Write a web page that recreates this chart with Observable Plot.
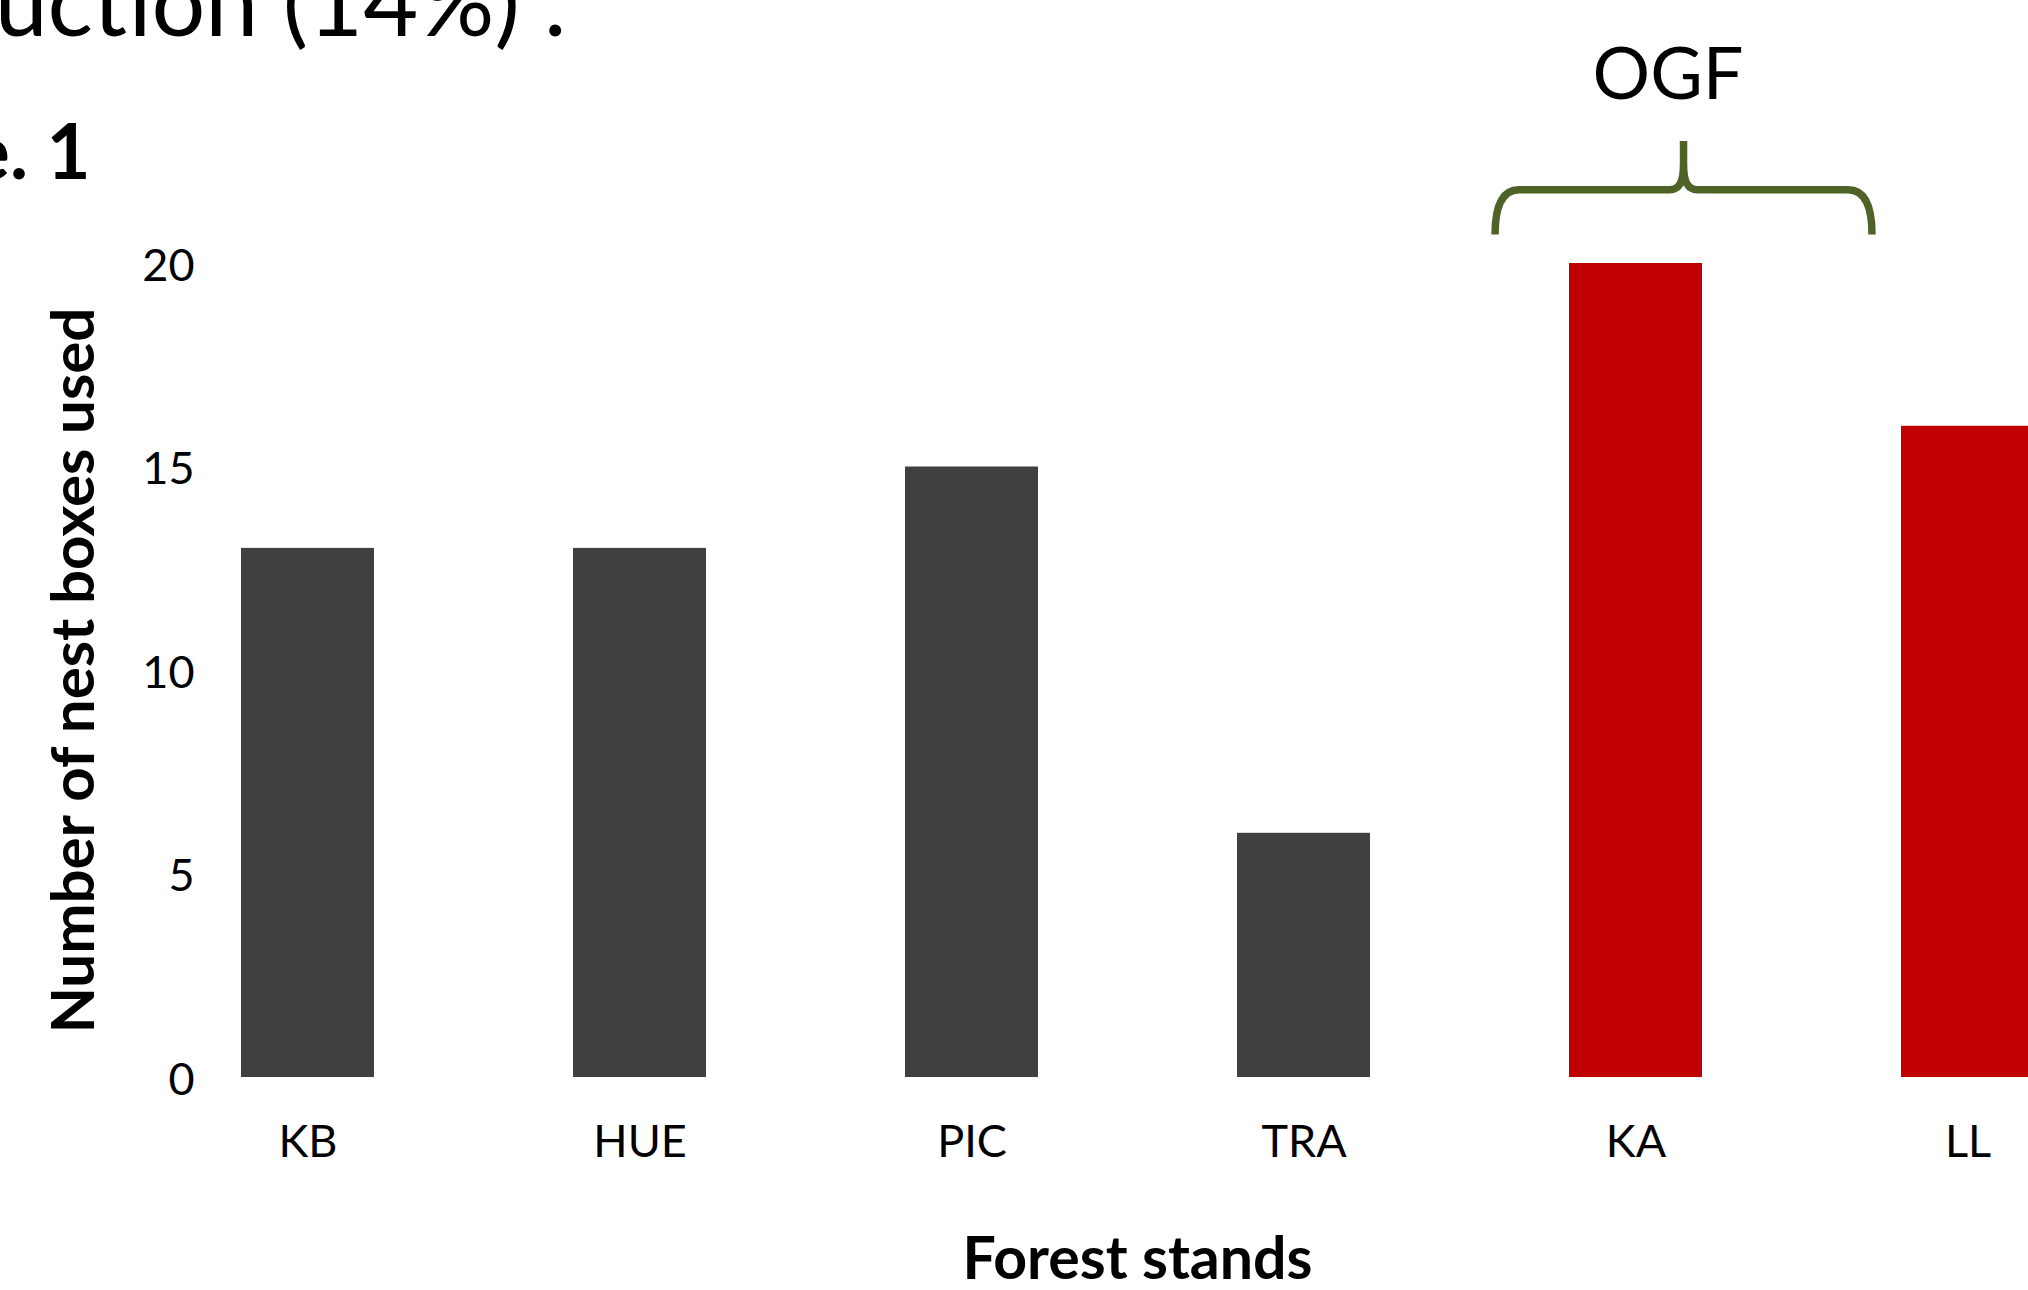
<!DOCTYPE html>
<html>
<head>
<meta charset="utf-8">
<script src="https://cdn.jsdelivr.net/npm/d3@7"></script>
<script src="https://cdn.jsdelivr.net/npm/@observablehq/plot@0.6"></script>
<style>
  html, body { margin: 0; padding: 0; background: #fff; overflow: hidden; }
  #wrap { width: 2028px; height: 1290px; overflow: hidden; position: relative; background: #fff; }
  #wrap svg { overflow: hidden; }
</style>
</head>
<body>
<div id="wrap"></div>
<script>
// ---- data ----
const stands = ["KB", "HUE", "PIC", "TRA", "KA", "LL"];
const nestBoxes = [13, 13, 15, 6, 20, 16];
const ogfStands = ["KA", "LL"];
const yTicks = [0, 5, 10, 15, 20];
const groupLabel = "OGF";
const yTitle = "Number of nest boxes used";
const xTitle = "Forest stands";
const topLine = "uction (14%) .";
const figLine = "e. 1";

const rows = stands.map((s, i) => ({stand: s, count: nestBoxes[i], ogf: ogfStands.includes(s)}));

const FONT = "Lato, 'Open Sans', sans-serif";
const BRACE_COLOR = "#4F6228";

const chart = Plot.plot({
  width: 2028,
  height: 1290,
  marginLeft: 200,
  marginRight: 0,
  marginTop: 263,
  marginBottom: 213,
  style: {fontFamily: FONT, color: "#000", background: "#fff"},
  x: {domain: stands, range: [141, 2134], paddingInner: 0.6, paddingOuter: 0.3, align: 0.5},
  y: {domain: [0, 20]},
  marks: [
    Plot.barY(rows, {x: "stand", y: "count", fill: d => d.ogf ? "#C00000" : "#404040"}),
    Plot.axisY({ticks: yTicks, tickSize: 0, tickPadding: 6, fontSize: 45, label: null, fill: "#000", dy: 3}),
    Plot.axisX({tickSize: 0, tickPadding: 48, fontSize: 45, label: null, fill: "#000"}),
    Plot.text([yTitle], {text: d => d, frameAnchor: "left", textAnchor: "middle", rotate: -90, dx: -107, lineAnchor: "bottom",
      fontSize: 60, fontWeight: "bold", fontFamily: FONT, fill: "#000"}),
    Plot.text([xTitle], {text: d => d, frameAnchor: "bottom", textAnchor: "middle", dx: 23, dy: 201, lineAnchor: "bottom",
      fontSize: 59, fontWeight: "bold", fontFamily: FONT, fill: "#000"}),
    Plot.text([topLine], {text: d => d, frameAnchor: "top-left", textAnchor: "end", lineAnchor: "bottom",
      dx: 366, dy: -228, fontSize: 95, fontFamily: FONT, fill: "#000"}),
    Plot.text([figLine], {text: d => d, frameAnchor: "top-left", textAnchor: "end", lineAnchor: "bottom",
      dx: -110, dy: -85, fontSize: 76, fontWeight: "bold", fontFamily: FONT, fill: "#000"}),
    Plot.text([{label: groupLabel, stand: ogfStands[0], y: 24.05}], {x: "stand", y: "y", text: "label",
      dx: 32, lineAnchor: "bottom", fontSize: 72, fontFamily: FONT, fill: "#000"})
  ]
});

// brace over the OGF group, positioned through the chart's scales
const sx = chart.scale("x"), sy = chart.scale("y");
const bw = sx.bandwidth;
const L = sx.apply(ogfStands[0]) - 0.556 * bw;
const R = sx.apply(ogfStands[ogfStands.length - 1]) - 0.218 * bw;
const P = (L + R) / 2;
const yEnd = sy.apply(20.7), yH = sy.apply(21.8), yPk = sy.apply(23.0);
const path = [
  `M${L},${yEnd}`,
  `C${L},${yH + 22} ${L + 4},${yH} ${L + 24},${yH}`,
  `L${P - 14},${yH}`,
  `C${P - 4},${yH} ${P},${yH - 8} ${P},${yH - 26}`,
  `L${P},${yPk}`,
  `M${P},${yH - 26}`,
  `C${P},${yH - 8} ${P + 4},${yH} ${P + 14},${yH}`,
  `L${R - 24},${yH}`,
  `C${R - 4},${yH} ${R},${yH + 22} ${R},${yEnd}`
].join(" ");
d3.select(chart).append("path")
  .attr("d", path)
  .attr("fill", "none")
  .attr("stroke", BRACE_COLOR)
  .attr("stroke-width", 7.5)
  .attr("stroke-linejoin", "round")
  .attr("stroke-linecap", "butt");

document.getElementById("wrap").appendChild(chart);
</script>
</body>
</html>
